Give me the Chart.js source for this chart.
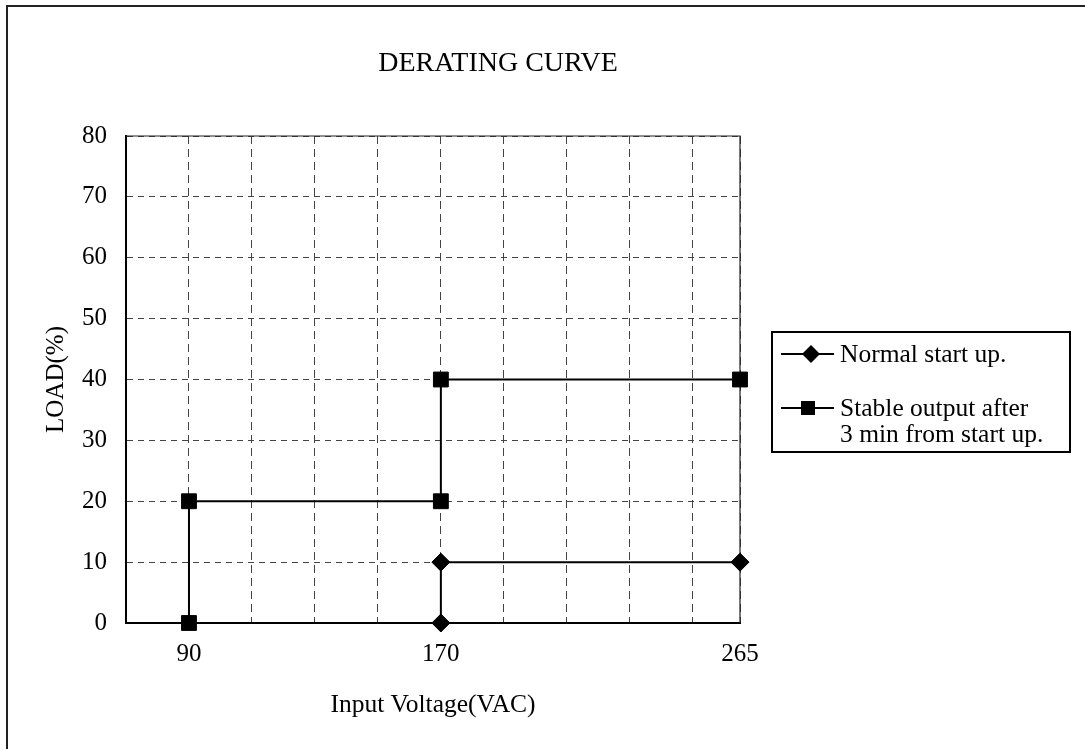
<!DOCTYPE html>
<html>
<head>
<meta charset="utf-8">
<script src="https://cdn.jsdelivr.net/npm/chart.js@4.4.0/dist/chart.umd.min.js"></script>
<style>
    html, body { margin: 0; padding: 0; background: #fff; }
    #lienzo { position: relative; width: 1085px; height: 749px; overflow: hidden; font-family: "Liberation Serif", "Times New Roman", serif; color: #000; }
    #marco { position: absolute; left: 6px; top: 5px; width: 1200px; height: 900px; border-left: 2px solid #222; border-top: 2px solid #222; }
    #grafica { position: absolute; left: 0; top: 0; }
    #titulo { position: absolute; left: 298px; top: 46px; width: 400px; text-align: center; font-size: 28px; line-height: 32px; }
    #leyenda { position: absolute; left: 771px; top: 331px; width: 300px; height: 122px; border: 2px solid #000; box-sizing: border-box; }
    .texto { position: absolute; left: 840px; font-size: 25.5px; line-height: 26px; white-space: nowrap; }
    .marca { position: absolute; left: 780px; }
</style>
</head>
<body>
<div id="lienzo">
    <div id="marco"></div>
    <canvas id="grafica" width="1085" height="749"></canvas>
    <div id="titulo">DERATING CURVE</div>
    <div id="leyenda"></div>
    <svg class="marca" style="top:344px" width="56" height="20">
        <line x1="1" y1="10" x2="54" y2="10" stroke="#000" stroke-width="2"/>
        <polygon points="31,1 40,10 31,19 22,10" fill="#000"/>
    </svg>
    <div class="texto" id="ley1" style="top:341px"></div>
    <svg class="marca" style="top:398px" width="56" height="20">
        <line x1="1" y1="10" x2="54" y2="10" stroke="#000" stroke-width="2"/>
        <rect x="21" y="3" width="14" height="14" fill="#000"/>
    </svg>
    <div class="texto" id="ley2" style="top:395px"></div>
</div>
<script>
// datos
const normalX = [170, 170, 265];
const normalY = [0, 10, 10];
const estableX = [90, 90, 170, 170, 265];
const estableY = [0, 20, 20, 40, 40];

const etiquetasX = [90, 170, 265];
const rejillaX = [70, 90, 110, 130, 150, 170, 190, 210, 230, 250, 265];

const nombres = ['Normal start up.', ['Stable output after', '3 min from start up.']];

document.getElementById('ley1').innerText = nombres[0];
document.getElementById('ley2').innerHTML = nombres[1].join('<br>');

const aPuntos = (xs, ys) => xs.map((x, i) => ({ x, y: ys[i] }));

// borde fino arriba y a la derecha del area
const bordeArea = {
    id: 'bordeArea',
    beforeDatasetsDraw(chart) {
        const { ctx, chartArea: a } = chart;
        ctx.save();
        ctx.strokeStyle = '#222';
        ctx.lineWidth = 1.2;
        ctx.beginPath();
        ctx.moveTo(a.left, a.top);
        ctx.lineTo(a.right, a.top);
        ctx.lineTo(a.right, a.bottom);
        ctx.stroke();
        ctx.restore();
    }
};

const fuente = 'Liberation Serif';

new Chart(document.getElementById('grafica'), {
    type: 'line',
    data: {
        datasets: [{
            label: 'Normal start up.',
            data: aPuntos(normalX, normalY),
            borderColor: '#000',
            backgroundColor: '#000',
            borderWidth: 2,
            pointStyle: 'rectRot',
            pointRadius: 9,
            pointBorderWidth: 1,
            tension: 0,
            clip: false
        }, {
            label: 'Stable output after 3 min from start up.',
            data: aPuntos(estableX, estableY),
            borderColor: '#000',
            backgroundColor: '#000',
            borderWidth: 2,
            pointStyle: 'rect',
            pointRadius: 10.5,
            pointBorderWidth: 1,
            tension: 0,
            clip: false
        }]
    },
    options: {
        responsive: false,
        animation: false,
        devicePixelRatio: 1,
        layout: { padding: { left: 0, right: 345, top: 136, bottom: 0 } },
        plugins: {
            legend: { display: false },
            title: { display: false },
            tooltip: { enabled: false }
        },
        scales: {
            x: {
                type: 'linear',
                min: 70,
                max: 265,
                afterBuildTicks: scale => {
                    scale.ticks = rejillaX.map(v => ({ value: v }));
                },
                afterFit: scale => { scale.height = 126; },
                ticks: {
                    autoSkip: false,
                    maxRotation: 0,
                    padding: 16,
                    color: '#000',
                    font: { family: fuente, size: 25 },
                    callback: v => etiquetasX.includes(v) ? String(v) : ''
                },
                grid: { color: '#444', lineWidth: 1, drawTicks: false },
                border: { display: true, color: '#000', width: 2, dash: [8, 5] },
                title: {
                    display: true,
                    text: 'Input Voltage(VAC)',
                    color: '#000',
                    font: { family: fuente, size: 25.5 },
                    padding: { top: 0, bottom: 28 }
                }
            },
            y: {
                min: 0,
                max: 80,
                afterFit: scale => { scale.width = 126; },
                ticks: {
                    stepSize: 10,
                    padding: 19,
                    color: '#000',
                    font: { family: fuente, size: 25 }
                },
                grid: { color: '#444', lineWidth: 1, drawTicks: false },
                border: { display: true, color: '#000', width: 2, dash: [6, 5] },
                title: {
                    display: true,
                    text: 'LOAD(%)',
                    color: '#000',
                    font: { family: fuente, size: 25 },
                    padding: { top: 41, bottom: 0 }
                }
            }
        }
    },
    plugins: [bordeArea]
});
</script>
</body>
</html>
